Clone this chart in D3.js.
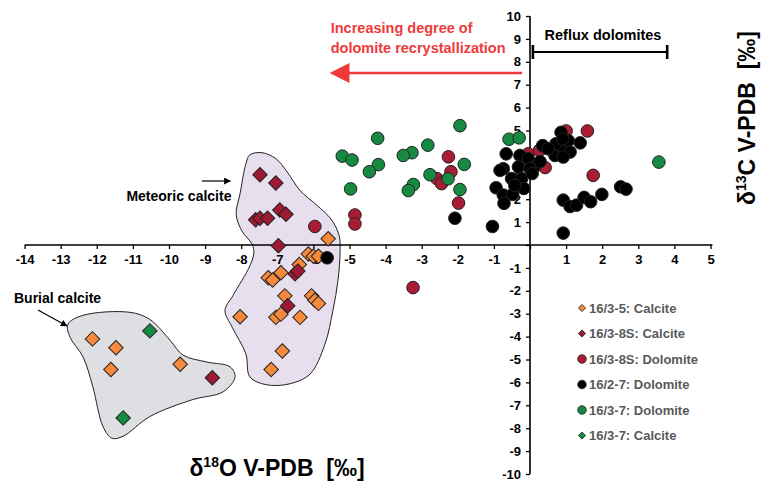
<!DOCTYPE html>
<html>
<head>
<meta charset="utf-8">
<style>
  body { margin: 0; background: #fff; }
  svg text { font-family: "Liberation Sans", Arial, sans-serif; font-weight: bold; }
</style>
</head>
<body>
<svg width="761" height="482"></svg>
<script src="https://d3js.org/d3.v7.min.js"></script>
<script>
// δ18O (x) and δ13C (y) pairs, per sample group
const calcite_16_3_5 = [
    [-5.59, 0.27], [-6.14, -0.39], [-6.00, -0.49], [-5.86, -0.49], [-6.39, -0.85],
    [-6.90, -1.21], [-7.25, -1.43], [-7.13, -1.53], [-6.79, -2.22], [-6.05, -2.22],
    [-5.96, -2.41], [-5.86, -2.55], [-8.03, -3.13], [-7.04, -3.16], [-6.90, -3.02],
    [-6.37, -3.16], [-6.86, -4.63], [-7.17, -5.44],
    [-12.12, -4.10], [-11.47, -4.49], [-11.61, -5.44], [-9.69, -5.21]
];
const calcite_16_3_8S = [
    [-7.48, 3.07], [-7.04, 2.71], [-7.60, 1.10], [-7.48, 1.17], [-7.27, 1.17],
    [-6.93, 1.53], [-6.76, 1.34], [-6.97, -0.03], [-6.51, -1.26], [-6.43, -1.14],
    [-6.71, -2.65], [-8.80, -5.80]
];
const calcite_16_3_7 = [[-10.53, -3.75], [-11.27, -7.55]];
const dolomite_16_3_8S = [
    [-2.26, 3.85], [-2.19, 3.20], [-2.58, 2.90], [-2.45, 2.68], [-1.98, 1.83],
    [-4.85, 1.31], [-4.85, 0.92], [-5.96, 0.81], [-3.24, -1.86],
    [1.00, 4.98], [1.59, 4.98], [-0.05, 3.98], [0.26, 4.13], [0.42, 3.38], [1.75, 3.04]
];
const dolomite_16_2_7 = [
    [-2.08, 1.17], [0.86, 4.92], [0.35, 4.34], [-0.66, 3.98], [-0.28, 3.91],
    [-0.05, 3.77], [-0.74, 3.33], [-0.83, 3.26], [-0.32, 3.41], [-0.51, 2.90],
    [-0.23, 2.90], [-0.94, 2.50], [-0.74, 2.18], [-0.48, 2.21], [-0.72, 1.82],
    [-1.04, 0.81], [0.12, 3.41], [0.69, 3.91], [0.83, 4.34], [1.06, 4.56],
    [1.11, 4.06], [1.39, 4.46], [0.92, 3.84], [0.72, 4.42], [0.92, 1.96],
    [1.11, 1.68], [1.29, 1.74], [1.50, 2.08], [1.68, 1.89], [1.99, 2.21],
    [2.51, 2.54], [2.66, 2.44], [0.92, 0.52], [-5.62, -0.56],
    [0.00, 3.33], [0.28, 3.64], [-0.17, 2.47], [-0.42, 2.60], [0.06, 3.12],
    [0.91, 4.63], [0.50, 4.20]
];
const dolomite_16_3_7 = [
    [-1.94, 5.21], [-4.22, 4.66], [-5.20, 3.88], [-4.93, 3.71], [-2.83, 4.36],
    [-3.27, 4.03], [-3.51, 3.91], [-4.20, 3.51], [-4.45, 3.20], [-1.82, 3.52],
    [-2.77, 3.07], [-2.27, 2.89], [-3.23, 2.64], [-3.37, 2.38], [-4.97, 2.45],
    [-1.94, 2.42], [-0.58, 4.62], [-0.30, 4.68], [3.57, 3.62]
];

// outlines of the two calcite fields
const meteoricField = [
    [-7.76, 3.94], [-7.42, 4.03], [-7.04, 3.77], [-6.73, 3.20], [-6.37, 2.38],
    [-5.90, 1.73], [-5.51, 1.13], [-5.29, 0.43], [-5.26, -0.22], [-5.32, -1.56],
    [-5.46, -2.86], [-5.68, -4.33], [-6.09, -5.63], [-6.65, -6.06], [-7.31, -6.10],
    [-7.76, -5.76], [-7.87, -4.76], [-8.25, -3.59], [-8.45, -2.86], [-8.23, -2.21],
    [-7.76, -0.91], [-7.65, -0.35], [-7.70, 0.04], [-7.98, 0.61], [-8.14, 1.34],
    [-8.03, 2.25], [-7.87, 3.55]
];
const burialField = [
    [-12.80, -3.46], [-12.38, -3.07], [-11.08, -2.94], [-10.53, -3.25], [-9.97, -4.16],
    [-9.61, -4.81], [-8.95, -5.11], [-8.31, -5.32], [-8.17, -5.76], [-8.50, -6.41],
    [-9.34, -6.75], [-10.53, -7.49], [-11.27, -8.35], [-11.58, -8.44], [-11.83, -7.92],
    [-12.11, -6.19], [-12.38, -4.89], [-12.74, -4.03]
];

const xTicks = d3.range(-14, 6);
const yTicks = d3.range(-10, 11);

const legendItems = [
    { label: "16/3-5: Calcite", shape: "diamond", fill: "#f58a3d" },
    { label: "16/3-8S: Calcite", shape: "diamond", fill: "#9e1a32" },
    { label: "16/3-8S: Dolomite", shape: "circle", fill: "#a81c34" },
    { label: "16/2-7: Dolomite", shape: "circle", fill: "#000000" },
    { label: "16/3-7: Dolomite", shape: "circle", fill: "#178a42" },
    { label: "16/3-7: Calcite", shape: "diamond", fill: "#178a42" }
];

const svg = d3.select("svg");
const x = d3.scaleLinear().domain([-14, 5]).range([24.6, 710.5]);
const y = d3.scaleLinear().domain([-10, 10]).range([474, 16]);

svg.append("defs").append("marker")
    .attr("id", "tip")
    .attr("viewBox", "0 -5 10 10")
    .attr("refX", 9).attr("refY", 0)
    .attr("markerWidth", 7).attr("markerHeight", 7)
    .attr("markerUnits", "userSpaceOnUse")
    .attr("orient", "auto")
    .append("path").attr("d", "M0,-5L10,0L0,5Z").attr("fill", "#000");

// fields
const outline = d3.line().x(d => x(d[0])).y(d => y(d[1])).curve(d3.curveCatmullRomClosed.alpha(0.5));
svg.append("path").attr("d", outline(burialField))
    .attr("fill", "#dedfe3").attr("stroke", "#222").attr("stroke-width", 1);
svg.append("path").attr("d", outline(meteoricField))
    .attr("fill", "#e8dfee").attr("stroke", "#222").attr("stroke-width", 1);

// axes
const xAxis = svg.append("g").attr("transform", `translate(0,${y(0)})`)
    .call(d3.axisBottom(x).tickValues(xTicks).tickSize(4).tickFormat(d => d === 0 ? "" : d));
const yAxis = svg.append("g").attr("transform", `translate(${x(0)},0)`)
    .call(d3.axisLeft(y).tickValues(yTicks).tickSize(4).tickFormat(d => d === 0 ? "" : d));
[xAxis, yAxis].forEach(g => {
    g.select(".domain").attr("stroke", "#000").attr("stroke-width", 1.6);
    g.selectAll(".tick line").attr("stroke", "#000").attr("stroke-width", 1.3);
    g.selectAll(".tick text").attr("font-size", 13).attr("font-weight", "bold")
        .attr("font-family", "'Liberation Sans', Arial, sans-serif").attr("fill", "#000");
});
xAxis.selectAll(".tick text").attr("y", 10);
yAxis.selectAll(".tick text").attr("x", -9);
xAxis.select(".domain").attr("d", `M${x(-14)},0H${x(5) + 2}`);
yAxis.select(".domain").attr("d", `M0,${y(10)}V${y(-10)}`);

// markers
const diamond = d3.symbol().type(d3.symbolSquare).size(105);
function drawDiamonds(data, fill) {
    svg.append("g").selectAll("path").data(data).join("path")
        .attr("d", diamond)
        .attr("transform", d => `translate(${x(d[0])},${y(d[1])}) rotate(45)`)
        .attr("fill", fill).attr("stroke", "#222").attr("stroke-width", 1);
}
function drawCircles(data, fill) {
    svg.append("g").selectAll("circle").data(data).join("circle")
        .attr("cx", d => x(d[0])).attr("cy", d => y(d[1])).attr("r", 6.3)
        .attr("fill", fill).attr("stroke", "#222").attr("stroke-width", 1);
}
drawDiamonds(calcite_16_3_5, "#f58a3d");
drawDiamonds(calcite_16_3_8S, "#9e1a32");
drawDiamonds(calcite_16_3_7, "#178a42");
drawCircles(dolomite_16_3_8S, "#a81c34");
drawCircles(dolomite_16_2_7, "#000000");
drawCircles(dolomite_16_3_7, "#178a42");

// annotations
const red = "#ee3a3a";
const noteSize = 14.5;
svg.append("text").attr("x", x(-5.52)).attr("y", 33).attr("font-size", noteSize).attr("fill", red)
    .text("Increasing degree of");
svg.append("text").attr("x", x(-5.52)).attr("y", 53).attr("font-size", noteSize).attr("fill", red)
    .text("dolomite recrystallization");
svg.append("line").attr("x1", x(-0.22)).attr("x2", x(-5.1)).attr("y1", 73).attr("y2", 73)
    .attr("stroke", red).attr("stroke-width", 2.5);
svg.append("path")
    .attr("d", `M${x(-5.55)},73L${x(-5.0)},63L${x(-5.0)},83Z`)
    .attr("fill", red);

svg.append("text").attr("x", 603).attr("y", 40).attr("font-size", noteSize)
    .attr("text-anchor", "middle").attr("fill", "#000").text("Reflux dolomites");
svg.append("line").attr("x1", x(0.08)).attr("x2", x(3.8)).attr("y1", 52).attr("y2", 52)
    .attr("stroke", "#000").attr("stroke-width", 2.2);
[0.08, 3.8].forEach(v => svg.append("line")
    .attr("x1", x(v)).attr("x2", x(v)).attr("y1", 45).attr("y2", 59)
    .attr("stroke", "#000").attr("stroke-width", 2.6));

svg.append("text").attr("x", x(-11.18)).attr("y", 201).attr("font-size", 14)
    .attr("fill", "#000").text("Meteoric calcite");
svg.append("line").attr("x1", x(-9.09)).attr("x2", x(-8.3)).attr("y1", 181).attr("y2", 181)
    .attr("stroke", "#000").attr("stroke-width", 1.2).attr("marker-end", "url(#tip)");

svg.append("text").attr("x", 14).attr("y", 303).attr("font-size", 14)
    .attr("fill", "#000").text("Burial calcite");
svg.append("line").attr("x1", 38).attr("x2", 67).attr("y1", 310).attr("y2", 326)
    .attr("stroke", "#000").attr("stroke-width", 1.2).attr("marker-end", "url(#tip)");

// axis titles
const xt = svg.append("text").attr("x", 277).attr("y", 476).attr("font-size", 23)
    .attr("text-anchor", "middle").attr("fill", "#000");
xt.append("tspan").text("δ");
xt.append("tspan").attr("font-size", 14).attr("dy", -9).text("18");
xt.append("tspan").attr("dy", 9).text("O V-PDB\u00a0\u00a0[‰]");

const yt = svg.append("text").attr("transform", "translate(755,118) rotate(-90)")
    .attr("font-size", 23).attr("text-anchor", "middle").attr("fill", "#000");
yt.append("tspan").text("δ");
yt.append("tspan").attr("font-size", 14).attr("dy", -9).text("13");
yt.append("tspan").attr("dy", 9).text("C V-PDB\u00a0\u00a0[‰]");

// legend
const legend = svg.append("g").attr("transform", "translate(582,308)");
const rows = legend.selectAll("g").data(legendItems).join("g")
    .attr("transform", (d, i) => `translate(0,${i * 25.5})`);
rows.each(function (d) {
    const g = d3.select(this);
    if (d.shape === "diamond") {
        g.append("path").attr("d", d3.symbol().type(d3.symbolSquare).size(26))
            .attr("transform", "rotate(45)").attr("fill", d.fill)
            .attr("stroke", "#222").attr("stroke-width", 0.8);
    } else {
        g.append("circle").attr("r", 4.3).attr("fill", d.fill)
            .attr("stroke", "#222").attr("stroke-width", 0.8);
    }
    g.append("text").attr("x", 7).attr("y", 4.5).attr("font-size", 13)
        .attr("fill", "#595959").text(d.label);
});
</script>
</body>
</html>
